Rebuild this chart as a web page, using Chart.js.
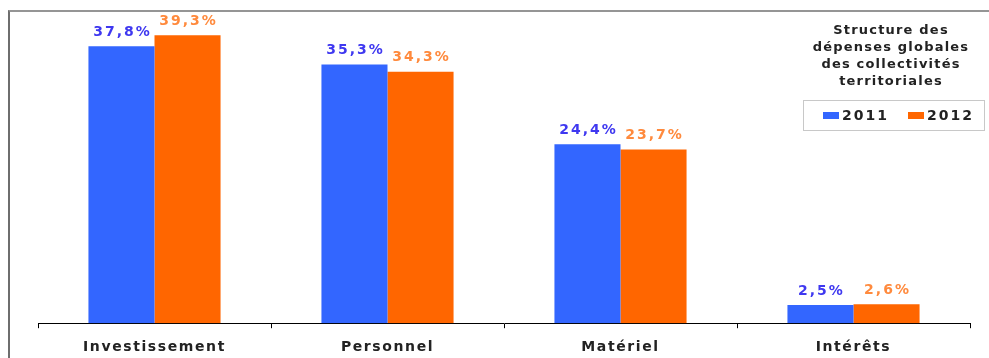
<!DOCTYPE html>
<html>
<head>
<meta charset="utf-8">
<script src="https://cdn.jsdelivr.net/npm/chart.js@4/dist/chart.umd.min.js"></script>
<style>
    html, body { margin:0; padding:0; background:#fff; }
    #wrap { position:relative; width:989px; height:358px; overflow:hidden; }
    #frame { position:absolute; left:8px; top:10px; width:1000px; height:400px; border-top:2px solid #959595; border-left:2px solid #6e6e6e; }
    canvas { position:absolute; left:0; top:0; }
</style>
</head>
<body>
<div id="wrap">
    <div id="frame"></div>
    <canvas id="depChart" width="989" height="358"></canvas>
</div>
<script>
// values (percent of global spending)
const categories = ['Investissement', 'Personnel', 'Matériel', 'Intérêts'];
const seriesNames = ['2011', '2012'];
const values2011 = [37.8, 35.3, 24.4, 2.5];
const values2012 = [39.3, 34.3, 23.7, 2.6];
const legendTitle = ['Structure des', 'dépenses globales', 'des collectivités', 'territoriales'];

const BLUE = '#3366ff', ORANGE = '#ff6600';
const LABEL_COLORS = ['#3f38f0', '#ff8a3d'];
const FONT = '"DejaVu Sans", Verdana, sans-serif';

const fmt = v => v.toFixed(1).replace('.', ',') + '%';

// spacing hack so the wide text of the original fits
const spacingPlugin = {
    id: 'spacing',
    beforeDraw(chart) { chart.ctx.letterSpacing = '1.6px'; }
};

const valueLabels = {
    id: 'valueLabels',
    afterDatasetsDraw(chart) {
        const ctx = chart.ctx;
        ctx.save();
        ctx.letterSpacing = '2px';
        ctx.font = 'bold 14px ' + FONT;
        ctx.textAlign = 'center';
        ctx.textBaseline = 'bottom';
        chart.data.datasets.forEach((ds, i) => {
            chart.getDatasetMeta(i).data.forEach((bar, j) => {
                ctx.fillStyle = LABEL_COLORS[i];
                ctx.fillText(fmt(ds.data[j]), bar.x + 1, bar.y - 7);
            });
        });
        ctx.restore();
    }
};

const boxLegend = {
    id: 'boxLegend',
    afterDraw(chart) {
        const ctx = chart.ctx;
        ctx.save();
        ctx.letterSpacing = '1.2px';
        ctx.fillStyle = '#222';
        ctx.font = 'bold 13px ' + FONT;
        ctx.textAlign = 'center';
        ctx.textBaseline = 'middle';
        legendTitle.forEach((t, i) => ctx.fillText(t, 891, 31 + i * 17));

        ctx.strokeStyle = '#c8c8c8';
        ctx.lineWidth = 1;
        ctx.strokeRect(803.5, 100.5, 181, 30);

        ctx.letterSpacing = '2px';
        ctx.font = 'bold 14px ' + FONT;
        ctx.textAlign = 'left';
        const xs = [823, 908];
        chart.data.datasets.forEach((ds, i) => {
            ctx.fillStyle = ds.backgroundColor;
            ctx.fillRect(xs[i], 112, 16, 7);
            ctx.fillStyle = '#222';
            ctx.fillText(ds.label, xs[i] + 19, 116);
        });
        ctx.restore();
    }
};

new Chart(document.getElementById('depChart').getContext('2d'), {
    type: 'bar',
    data: {
        labels: categories,
        datasets: [
            { label: seriesNames[0], data: values2011, backgroundColor: BLUE },
            { label: seriesNames[1], data: values2012, backgroundColor: ORANGE }
        ]
    },
    options: {
        responsive: false,
        animation: false,
        layout: { padding: { left: 38, right: 19, top: 30, bottom: -9 } },
        datasets: { bar: { categoryPercentage: 0.567, barPercentage: 1 } },
        plugins: { legend: { display: false }, tooltip: { enabled: false } },
        scales: {
            x: {
                grid: { display: true, drawOnChartArea: false, drawTicks: true, tickLength: 5, color: '#000', offset: true },
                border: { display: true, color: '#000', width: 1 },
                ticks: { color: '#222', padding: 11, font: { family: FONT, size: 14, weight: 'bold' } }
            },
            y: { display: false, min: 0, max: 40 }
        }
    },
    plugins: [spacingPlugin, valueLabels, boxLegend]
});
</script>
</body>
</html>
